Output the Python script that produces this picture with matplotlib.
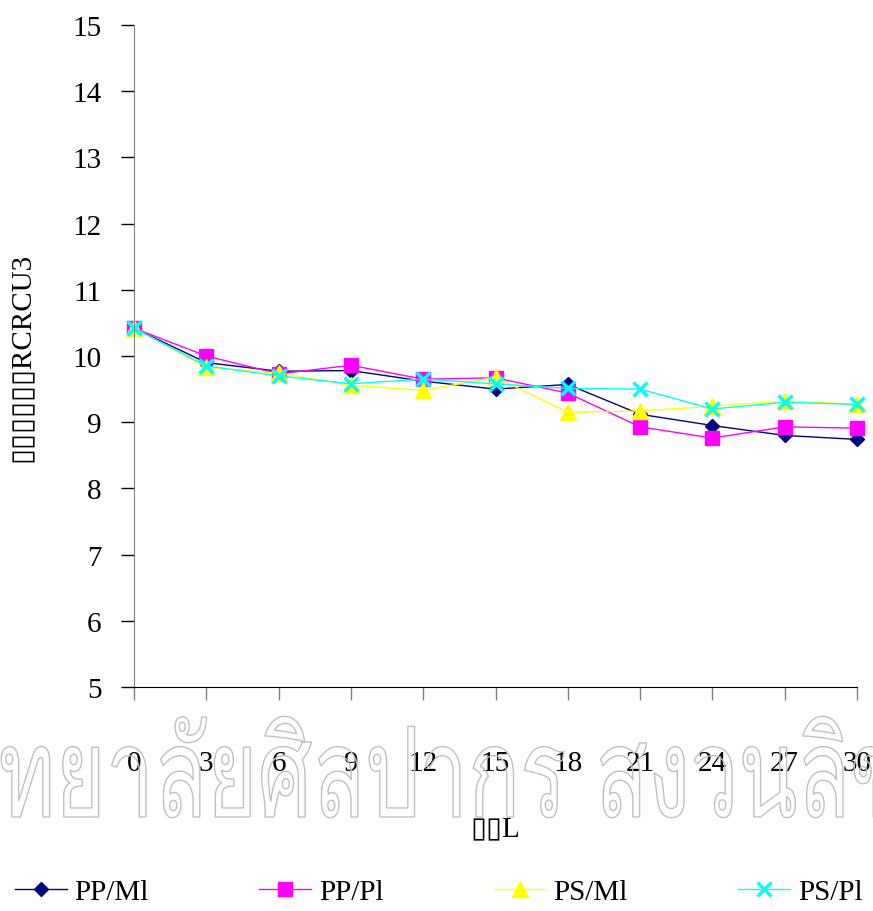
import matplotlib
matplotlib.use('Agg')
import matplotlib.pyplot as plt
from matplotlib import font_manager
from matplotlib.ft2font import FT2Font
from matplotlib.font_manager import FontProperties
from matplotlib.textpath import TextPath
from matplotlib.patches import PathPatch
from matplotlib.transforms import Affine2D, IdentityTransform

# Días de almacenamiento y valores medidos por tratamiento
dias = [0, 3, 6, 9, 12, 15, 18, 21, 24, 27, 30]
pp_ml = [10.42, 9.90, 9.77, 9.78, 9.62, 9.50, 9.57, 9.12, 8.95, 8.80, 8.74]
pp_pl = [10.42, 10.00, 9.73, 9.86, 9.65, 9.67, 9.44, 8.93, 8.76, 8.93, 8.91]
ps_ml = [10.42, 9.83, 9.74, 9.56, 9.48, 9.68, 9.15, 9.17, 9.24, 9.32, 9.27]
ps_pl = [10.42, 9.85, 9.70, 9.58, 9.65, 9.58, 9.51, 9.50, 9.20, 9.30, 9.27]
etiquetas = ['PP/Ml', 'PP/Pl', 'PS/Ml', 'PS/Pl']

marca_agua = 'มหาวิทยาลัยศิลปากร สงวนลิขสิทธิ์'

plt.rcParams['font.family'] = ['Liberation Serif', 'DejaVu Sans']
plt.rcParams['font.size'] = 21

fig = plt.figure(figsize=(8.73, 9.12), dpi=100)
ax = fig.add_axes([0.1535, 0.2456, 0.8282, 0.7259])

estilos = [
    dict(color='#000080', marker='D', markersize=7),
    dict(color='#ff00ff', marker='s', markersize=10),
    dict(color='#ffff00', marker='^', markersize=11),
    dict(color='#00ffff', marker='x', markersize=10, markeredgewidth=2.5),
]
series = [pp_ml, pp_pl, ps_ml, ps_pl]
lineas = []
for valores, estilo, nombre in zip(series, estilos, etiquetas):
    l, = ax.plot(dias, valores, linewidth=1.0, label=nombre, clip_on=False, **estilo)
    lineas.append(l)

ax.set_xlim(0, 30)
ax.set_ylim(5, 15)
ax.set_xticks(dias)
ax.set_yticks(range(5, 16))
ax.spines['top'].set_visible(False)
ax.spines['right'].set_visible(False)
ax.spines['left'].set_color('#808080')
ax.spines['bottom'].set_color('black')
ax.tick_params(axis='both', direction='out', length=9.4, width=1, labelcolor='black')
ax.tick_params(axis='y', pad=14, color='black')
ax.tick_params(axis='x', pad=36, color='#808080')

ax.set_ylabel('▯▯▯▯▯▯RCRCU3', family=['Liberation Serif', 'DejaVu Sans'], labelpad=27)
ax.set_xlabel('▯▯L', family=['Liberation Serif', 'DejaVu Sans'], labelpad=28)

fig.legend(lineas, etiquetas, loc='center left', bbox_to_anchor=(0.0, 1 - 893 / 912),
           ncol=4, frameon=False, borderpad=0, handlelength=1.78, handletextpad=0.27,
           columnspacing=3.78)


# Marca de agua en tailandés, contorno gris claro
def fuente_tailandesa():
    con_thai = []
    for f in font_manager.fontManager.ttflist:
        try:
            if 0x0E01 in FT2Font(f.fname).get_charmap():
                con_thai.append(f)
        except Exception:
            pass
    for nombre in ['Laksaman', 'TH Sarabun', 'Kinnari', 'Norasi', 'Garuda', 'Loma']:
        for f in con_thai:
            if nombre in f.name and f.weight in (400, 'normal') and f.style == 'normal':
                return f.fname
    return con_thai[0].fname if con_thai else None


ruta = fuente_tailandesa()
if ruta:
    prop = FontProperties(fname=ruta)
    camino = TextPath((0, 0), marca_agua, size=100, prop=prop)
    ini = TextPath((0, 0), 'มหาว', size=100, prop=prop).get_extents().x1
    fin = TextPath((0, 0), 'มหาวิทยาลัยศิลปากร สงวนล', size=100, prop=prop).get_extents().x1
    alto = TextPath((0, 0), 'น', size=100, prop=prop).get_extents().height
    sx = (843 + 8) / (fin - ini)
    sy = 71 / alto
    tr = Affine2D().translate(-ini, 0).scale(sx, sy).translate(-8, 912 - 818)
    fig.add_artist(PathPatch(tr.transform_path(camino), facecolor='none', edgecolor='#c0c0c0',
                             linewidth=1.0, transform=IdentityTransform(), zorder=5))

fig.savefig('out.png', dpi=100)
